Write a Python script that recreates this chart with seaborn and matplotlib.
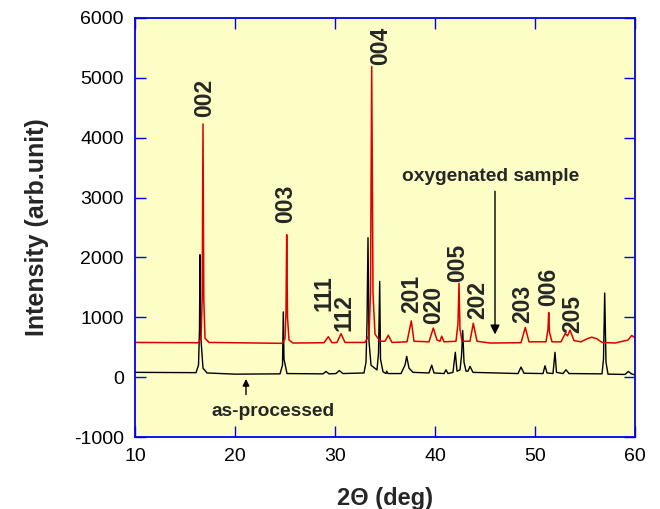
import matplotlib
matplotlib.use("Agg")
import matplotlib.pyplot as plt
import seaborn as sns
import pandas as pd

# ---- data ----
red_x = [10.0, 16.3, 16.6, 16.72, 16.8, 16.88, 17.0, 17.4, 24.7, 25.0, 25.1, 25.17, 25.25, 25.4, 25.8,
         28.9, 29.33, 29.7, 30.2, 30.6, 31.0, 33.0, 33.4, 33.55, 33.67, 33.8, 34.0, 34.5, 35.0, 35.33,
         35.7, 37.2, 37.63, 37.9, 39.4, 39.83, 40.2, 40.5, 40.67, 40.9, 42.1, 42.3, 42.4, 42.5, 42.7,
         43.5, 43.83, 44.2, 45.5, 48.6, 49.03, 49.4, 51.1, 51.3, 51.37, 51.45, 51.7, 52.6, 53.03, 53.25,
         53.5, 53.9, 54.6, 55.2, 55.67, 56.2, 56.7, 58.0, 59.3, 59.67, 60.0]
red_y = [580, 575, 640, 1300, 4230, 1300, 650, 580, 565, 640, 1100, 2380, 1000, 620, 570,
         575, 675, 575, 580, 725, 580, 580, 700, 1400, 5190, 1400, 720, 600, 600, 700,
         580, 590, 940, 600, 590, 820, 620, 600, 685, 590, 600, 900, 1570, 800, 600,
         600, 900, 600, 570, 575, 830, 590, 590, 800, 1080, 750, 590, 590, 730, 690,
         786, 610, 590, 640, 668, 640, 580, 570, 620, 696, 660]

black_x = [10.0, 16.1, 16.35, 16.45, 16.5, 16.57, 16.8, 17.2, 20.0, 24.5, 24.75, 24.83, 24.9, 25.2,
           28.8, 29.1, 29.4, 30.1, 30.43, 30.8, 32.9, 33.1, 33.2, 33.3, 33.4, 33.6, 34.2, 34.35, 34.47,
           34.55, 34.8, 35.1, 35.17, 35.3, 36.6, 37.0, 37.17, 37.4, 37.8, 39.4, 39.67, 39.9, 40.9, 41.1,
           41.3, 41.8, 42.03, 42.2, 42.5, 42.65, 42.77, 42.9, 43.1, 43.3, 43.5, 43.8, 48.3, 48.6, 48.9,
           50.8, 51.0, 51.2, 51.8, 52.0, 52.15, 52.8, 53.1, 53.4, 56.7, 56.85, 56.97, 57.1, 57.3, 59.0,
           59.33, 59.7, 60.0]
black_y = [80, 75, 200, 800, 2045, 700, 150, 70, 50, 55, 200, 1090, 300, 60,
           55, 95, 55, 60, 110, 60, 70, 250, 900, 2330, 600, 200, 120, 400, 1600,
           300, 90, 60, 100, 60, 60, 200, 347, 150, 80, 70, 200, 70, 60, 123,
           60, 80, 415, 100, 120, 350, 780, 250, 100, 100, 180, 80, 60, 168, 65,
           60, 190, 70, 60, 415, 80, 60, 123, 60, 55, 300, 1405, 250, 50, 45,
           95, 50, 40]

peak_labels = ["002", "003", "004", "111", "112", "201", "020", "005", "202", "203", "006", "205"]
label_x = [17.0, 25.1, 34.6, 28.95, 30.9, 37.7, 39.9, 42.25, 44.25, 48.75, 51.4, 53.75]
label_y = [4340, 2570, 5215, 1106, 769, 1079, 882, 1585, 966, 911, 1190, 742]

x_ticks = [10, 20, 30, 40, 50, 60]
y_ticks = [-1000, 0, 1000, 2000, 3000, 4000, 5000, 6000]

red_df = pd.DataFrame({"x": red_x, "y": red_y})
black_df = pd.DataFrame({"x": black_x, "y": black_y})

sns.set_style("ticks")
plt.rcParams["font.family"] = ["Liberation Sans", "DejaVu Sans"]
plt.rcParams["axes.unicode_minus"] = False

fig = plt.figure(figsize=(6.6, 5.09), dpi=100)
ax = fig.add_axes([135 / 660, 1 - 437 / 509, 500 / 660, 419 / 509])
ax.set_facecolor("#FDFDC6")

sns.lineplot(data=black_df, x="x", y="y", ax=ax, color="black", lw=1.0, estimator=None, sort=False)
sns.lineplot(data=red_df, x="x", y="y", ax=ax, color="#DD0000", lw=1.1, estimator=None, sort=False)

ax.set_xlim(10, 60)
ax.set_ylim(-1000, 6000)
ax.set_xticks(x_ticks)
ax.set_yticks(y_ticks)
ax.tick_params(direction="in", length=8, width=1, color="#0000EE", top=True, right=True,
               labelsize=14, pad=8, labelcolor="black")
for s in ax.spines.values():
    s.set_color("#0000EE")
    s.set_linewidth(1.3)

ax.set_xlabel("2Θ (deg)", fontsize=17, fontweight="bold", labelpad=16)
ax.set_ylabel("Intensity (arb.unit)", fontsize=18, fontweight="bold", labelpad=18)

for t, lx, ly in zip(peak_labels, label_x, label_y):
    ax.text(lx, ly, t, rotation=90, ha="center", va="bottom", fontsize=16.5, fontweight="bold")

ax.text(45.6, 3360, "oxygenated sample", ha="center", va="center", fontsize=13.8, fontweight="bold")
ax.annotate("", xy=(46.0, 713), xytext=(46.0, 3105),
            arrowprops=dict(arrowstyle="-|>", color="black", lw=1.0, mutation_scale=14,
                            shrinkA=0, shrinkB=0))
ax.text(23.8, -570, "as-processed", ha="center", va="center", fontsize=13.8, fontweight="bold")
ax.annotate("", xy=(21.1, -30), xytext=(21.1, -290),
            arrowprops=dict(arrowstyle="-|>", color="black", lw=1.0, mutation_scale=10,
                            shrinkA=0, shrinkB=0))

fig.savefig("out.png", dpi=100)
